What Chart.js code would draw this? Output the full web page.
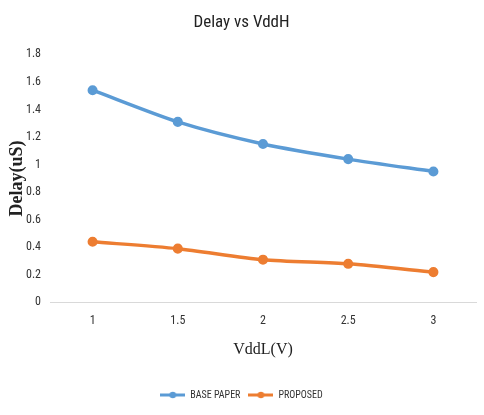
<!DOCTYPE html>
<html><head><meta charset="utf-8">
<script src="https://cdn.jsdelivr.net/npm/chart.js@4/dist/chart.umd.min.js"></script>
<style>html,body{margin:0;padding:0;background:#fff}#wrap{width:484px;height:415px}</style>
</head><body><div id="wrap"><canvas id="c" width="484" height="415"></canvas></div>
<script>
const categories = ["1", "1.5", "2", "2.5", "3"];
const basePaper = [1.54, 1.31, 1.15, 1.04, 0.95];
const proposed = [0.44, 0.39, 0.31, 0.28, 0.22];
const yTicks = [0, 0.2, 0.4, 0.6, 0.8, 1, 1.2, 1.4, 1.6, 1.8];

const narrow = "'Liberation Sans Narrow', 'Roboto Condensed', 'Open Sans', sans-serif";
const serif = "'Liberation Serif', 'DejaVu Serif', serif";
function markerImg(color){
  const c = document.createElement('canvas'); c.width = 25; c.height = 10;
  const g = c.getContext('2d');
  g.strokeStyle = color; g.lineWidth = 3; g.beginPath(); g.moveTo(0,5); g.lineTo(25,5); g.stroke();
  g.fillStyle = color; g.beginPath(); g.arc(12.5,5,3.3,0,Math.PI*2); g.fill();
  return c;
}
new Chart(document.getElementById('c'), {
  type: 'line',
  data: {
    labels: categories,
    datasets: [
      {label: 'BASE PAPER', data: basePaper, borderColor: '#5B9BD5', backgroundColor: '#5B9BD5', borderWidth: 3.5, pointRadius: 3.3, pointBackgroundColor: '#5B9BD5', tension: 0.25},
      {label: 'PROPOSED', data: proposed, borderColor: '#ED7D31', backgroundColor: '#ED7D31', borderWidth: 3.5, pointRadius: 3.3, pointBackgroundColor: '#ED7D31', tension: 0.25}
    ]
  },
  options: {
    responsive: false, animation: false,
    layout: {padding: {left: 7, right: 8, top: 7, bottom: 5}},
    plugins: {
      title: {display: true, text: 'Delay vs VddH', color: '#222', font: {family: narrow, size: 17, weight: 'normal'}, padding: {top: 6, bottom: 21}},
      legend: {position: 'bottom', labels: {usePointStyle: true, pointStyleWidth: 25, color: '#333', font: {family: narrow, size: 10}, padding: 8,
        generateLabels: (chart) => chart.data.datasets.map((d, i) => ({text: d.label, pointStyle: markerImg(d.borderColor), fillStyle: d.borderColor, strokeStyle: d.borderColor, lineWidth: 0, datasetIndex: i, fontColor: '#333'}))}},
      tooltip: {enabled: false}
    },
    scales: {
      x: {
        offset: true,
        grid: {display: false, drawTicks: false, tickLength: 0}, border: {display: true, color: '#d9d9d9', width: 1},
        ticks: {color: '#333', font: {family: narrow, size: 12}, padding: 11},
        title: {display: true, text: 'VddL(V)', color: '#222', font: {family: serif, size: 16}, padding: {top: 1, bottom: 23}}
      },
      y: {
        min: 0, max: 1.8,
        afterBuildTicks: (s) => { s.ticks = yTicks.map(v => ({value: v})); },
        afterFit: (s) => { s.width = 43; },
        grid: {display: false, drawTicks: false, tickLength: 0}, border: {display: false},
        ticks: {color: '#333', font: {family: narrow, size: 12}, padding: 9, callback: (v) => String(Math.round(v*10)/10)},
        title: {display: true, text: 'Delay(uS)', color: '#222', font: {family: serif, size: 18, weight: 'bold'}, padding: {top: 0, bottom: 0}}
      }
    }
  }
});
</script></body></html>
